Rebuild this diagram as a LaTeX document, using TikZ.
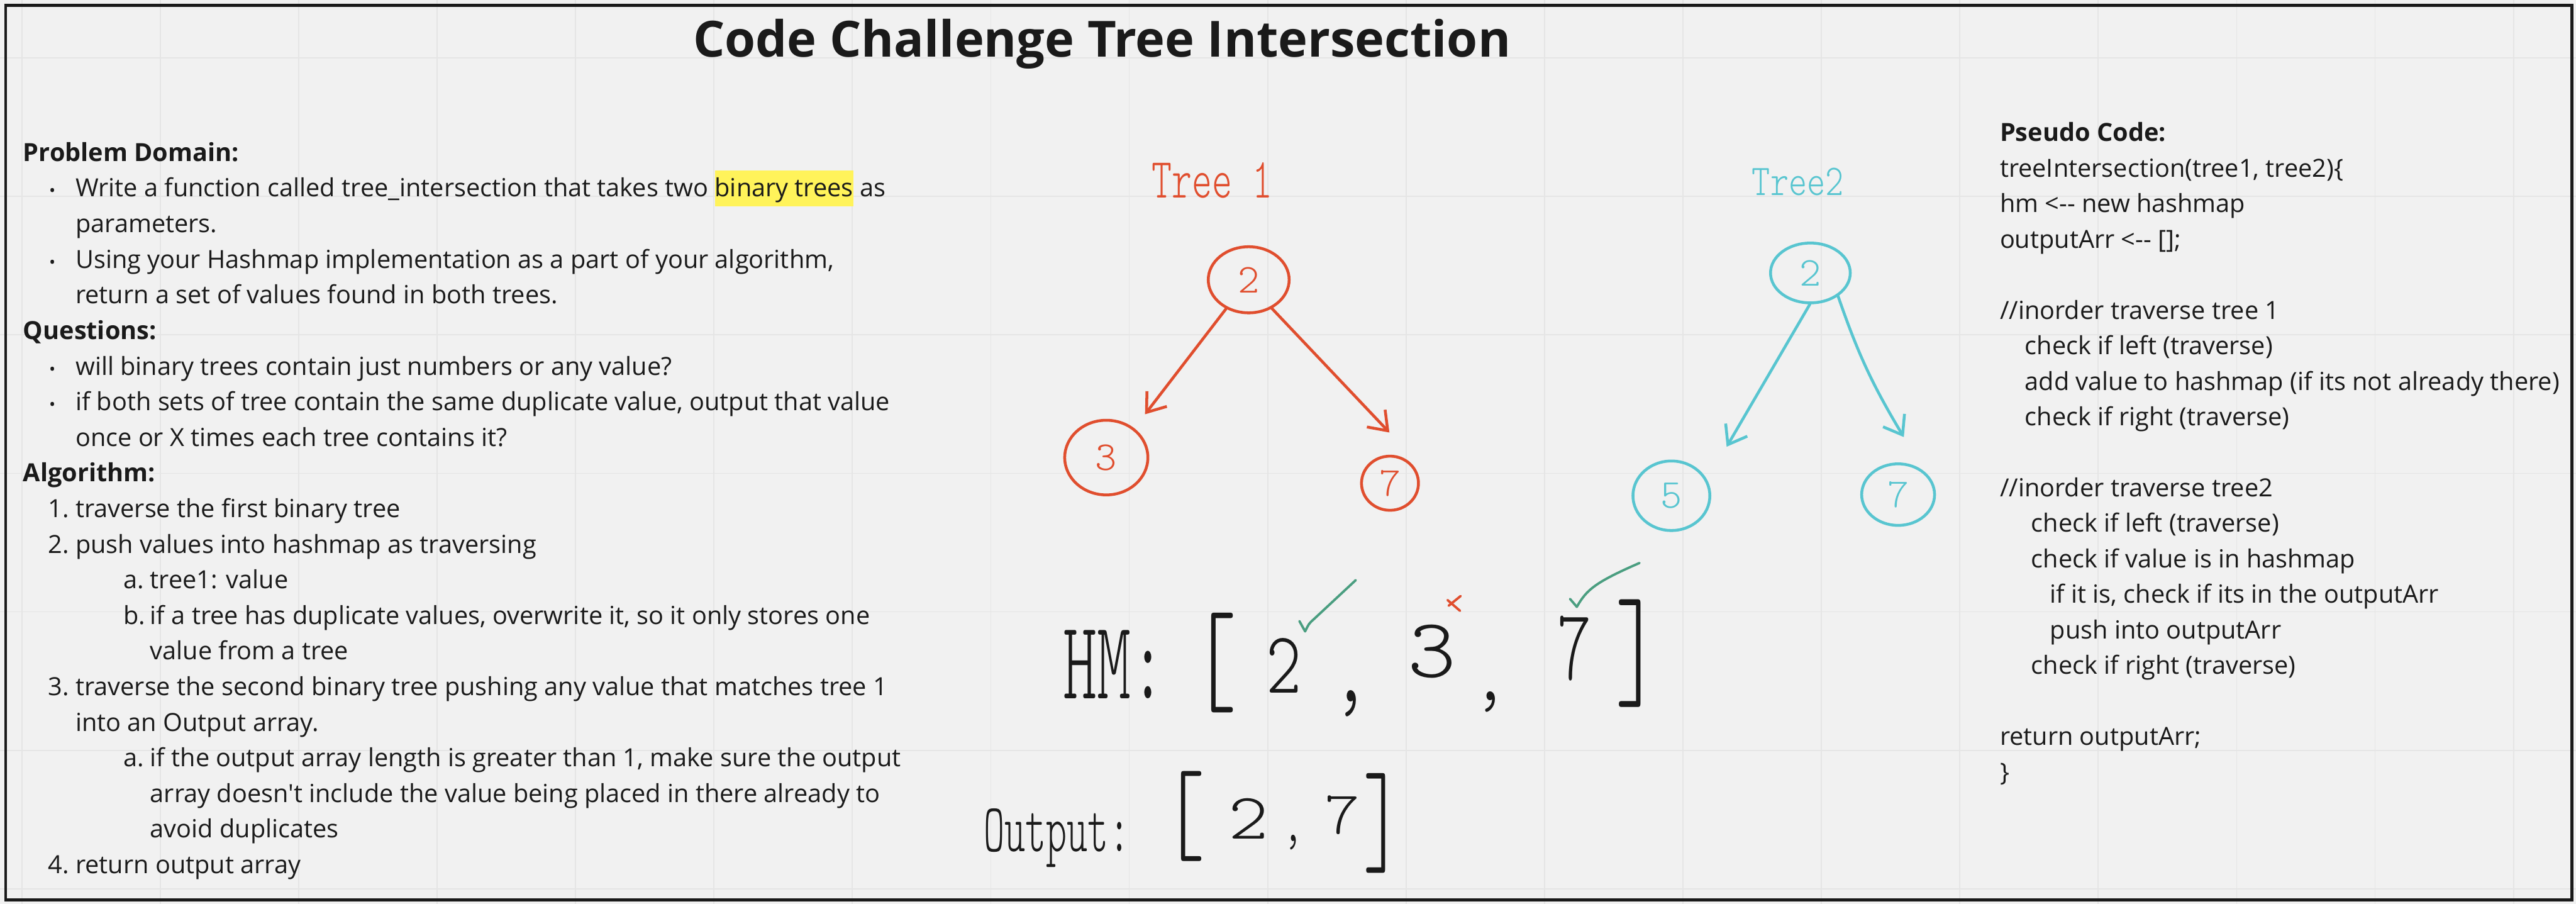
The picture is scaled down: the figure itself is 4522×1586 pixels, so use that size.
\documentclass[tikz,border=0pt]{standalone}
\usepackage{fontspec}
\usepackage{graphicx}
\setmainfont{Open Sans}
\newfontfamily\osfont{Open Sans}
\newcommand{\handfont}{\fontfamily{lmtt}\fontseries{l}\selectfont}
\usetikzlibrary{arrows.meta,shapes.geometric}
\definecolor{bg}{HTML}{F1F1F1}
\definecolor{gridc}{HTML}{E5E5E5}
\definecolor{ink}{HTML}{1A1A1A}
\definecolor{tred}{HTML}{E04E2E}
\definecolor{tteal}{HTML}{58C5D0}
\definecolor{tgreen}{HTML}{4A9E80}
\definecolor{hl}{HTML}{FFF35A}
\newcommand{\hlbox}[1]{{\setlength{\fboxsep}{0pt}\colorbox{hl}{\rule[-1.7mm]{0pt}{6.3mm}#1}}}
\newcommand{\bodyfont}{\osfont\fontsize{12.47pt}{14pt}\selectfont}
\begin{document}
\begin{tikzpicture}[x=0.1mm,y=-0.1mm,
  txt/.style={inner sep=0pt, anchor=base west, text=ink, font=\bodyfont},
  hd/.style={inner sep=0pt, anchor=base west, text=ink, font=\bodyfont\bfseries},
  bul/.style={inner sep=0pt, anchor=base, text=ink, font=\osfont\fontsize{8.5pt}{9pt}\selectfont},
  tnode/.style={ellipse, draw, line width=0.5mm, inner sep=0pt, font=\handfont\fontsize{20.5pt}{22pt}\selectfont},
  redn/.style={tnode, draw=tred, text=tred},
  tealn/.style={tnode, draw=tteal, text=tteal},
  arr/.style={-{Straight Barb[length=3mm,width=4.4mm]}, line width=0.5mm, line cap=round, line join=round},
  hw/.style={inner sep=0pt, text=ink, font=\handfont},
  tick/.style={line width=0.42mm, line cap=round, line join=round},
  gridline/.style={draw=gridc, line width=0.2mm}
]
\useasboundingbox (0,0) rectangle (4522,1586);
\fill[bg] (0,0) rectangle (4522,1586);
\foreach \i in {0,...,18} \draw[gridline] ({38.3+243*\i},0) -- ({38.3+243*\i},1586);
\foreach \j in {0,...,6} \draw[gridline] (0,{101.7+243*\j}) -- (4522,{101.7+243*\j});
\draw[line width=0.5mm, draw=ink] (9.7,9.5) rectangle (4514.5,1579.5);

% title
\node[inner sep=0pt, anchor=base west, text=ink, font=\osfont\bfseries\fontsize{24.9pt}{28pt}\selectfont] (title) at (1216,100) {Code Challenge Tree Intersection};

% left panel
\node[hd] (pd) at (40,283) {Problem Domain:};
\node[bul] (bu1) at (92,345.5) {•};
\node[txt] (pd1) at (132,345.5) {Write a function called tree\_intersection that takes two \hlbox{binary trees} as};
\node[txt] (pd1b) at (132,408) {parameters.};
\node[bul] (bu2) at (92,470.5) {•};
\node[txt] (pd2) at (132,470.5) {Using your Hashmap implementation as a part of your algorithm,};
\node[txt] (pd2b) at (132,533) {return a set of values found in both trees.};
\node[hd] (qs) at (40,595.5) {Questions:};
\node[bul] (bu3) at (92,658) {•};
\node[txt] (q1) at (132,658) {will binary trees contain just numbers or any value?};
\node[bul] (bu4) at (92,720.5) {•};
\node[txt] (q2) at (132,720.5) {if both sets of tree contain the same duplicate value, output that value};
\node[txt] (q2b) at (132,783) {once or X times each tree contains it?};
\node[hd] (alg) at (40,845.5) {Algorithm:};
\node[txt] (n1) at (84,908) {1.};
\node[txt] (a1t) at (132,908) {traverse the first binary tree};
\node[txt] (n2) at (84,970.5) {2.};
\node[txt] (a2t) at (132,970.5) {push values into hashmap as traversing};
\node[txt] (l2a) at (216,1033) {a.};
\node[txt] (a2a) at (263,1033) {tree1: value};
\node[txt] (l2b) at (216,1095.5) {b.};
\node[txt] (a2b) at (263,1095.5) {if a tree has duplicate values, overwrite it, so it only stores one};
\node[txt] (a2bb) at (263,1158) {value from a tree};
\node[txt] (n3) at (84,1220.5) {3.};
\node[txt] (a3t) at (132,1220.5) {traverse the second binary tree pushing any value that matches tree 1};
\node[txt] (a3tb) at (132,1283) {into an Output array.};
\node[txt] (l3a) at (216,1345.5) {a.};
\node[txt] (a3a) at (263,1345.5) {if the output array length is greater than 1, make sure the output};
\node[txt] (a3ab) at (263,1408) {array doesn't include the value being placed in there already to};
\node[txt] (a3ac) at (263,1470.5) {avoid duplicates};
\node[txt] (n4) at (84,1533) {4.};
\node[txt] (a4t) at (132,1533) {return output array};

% pseudo code
\node[hd] (ps0) at (3510,248) {Pseudo Code:};
\node[txt] (ps1) at (3510,310.4) {treeIntersection(tree1, tree2)\{};
\node[txt] (ps2) at (3510,372.7) {hm <-- new hashmap};
\node[txt] (ps3) at (3510,435) {outputArr <-- [];};
\node[txt] (ps5) at (3510,559.8) {//inorder traverse tree 1};
\node[txt] (ps6) at (3554,622) {check if left (traverse)};
\node[txt] (ps7) at (3554,684.5) {add value to hashmap (if its not already there)};
\node[txt] (ps8) at (3554,746.8) {check if right (traverse)};
\node[txt] (ps10) at (3510,871.5) {//inorder traverse tree2};
\node[txt] (ps11) at (3565,933.9) {check if left (traverse)};
\node[txt] (ps12) at (3565,996.2) {check if value is in hashmap};
\node[txt] (ps13) at (3598,1058.6) {if it is, check if its in the outputArr};
\node[txt] (ps14) at (3598,1120.9) {push into outputArr};
\node[txt] (ps15) at (3565,1183.3) {check if right (traverse)};
\node[txt] (ps17) at (3510,1308) {return outputArr;};
\node[txt] (ps18) at (3510,1370.3) {\}};

% tree 1
\node[hw, text=tred, anchor=base west] (t1lab) at (2021,347) {\resizebox{21.2mm}{6.2mm}{Tree 1}};
\node[redn, minimum width=14.2mm, minimum height=11.6mm] (r1) at (2192,491) {2};
\node[redn, minimum width=14.6mm, minimum height=13.1mm] (a1) at (1942,803) {3};
\node[redn, minimum width=10mm, minimum height=9.5mm] (b1) at (2440,848) {7};
\draw[arr, tred] (r1.232) -- ([xshift=6.8mm,yshift=7.6mm]a1.center);
\draw[arr, tred] (r1.-51) -- ([xshift=-0.1mm,yshift=8.9mm]b1.center);

% tree 2
\node[hw, text=tteal, anchor=base west] (t2lab) at (3075,343) {\resizebox{16.1mm}{4.8mm}{Tree2}};
\node[tealn, minimum width=14mm, minimum height=10.5mm] (r2) at (3178,479) {2};
\node[tealn, minimum width=13.5mm, minimum height=12.2mm] (a2) at (2934,870) {5};
\node[tealn, minimum width=12.8mm, minimum height=10.8mm] (b2) at (3332,868) {7};
\draw[arr, tteal] (r2.-91) -- ([xshift=9.7mm,yshift=8.6mm]a2.center);
\draw[arr, tteal] (r2.-40) to[bend right=6] ([xshift=1mm,yshift=10.1mm]b2.center);

% HM row
\node[hw] (hm) at (1955.5,1166) {\resizebox{17.9mm}{12mm}{HM:}};
\node[hw] (hmo) at (2132,1163) {\resizebox*{8mm}{17.5mm}{[}};
\node[hw] (hm2) at (2254,1168) {\resizebox{6.2mm}{9.6mm}{2}};
\node[hw] (hmc1) at (2371,1235) {\resizebox*{6.5mm}{4.6mm}{,}};
\node[hw] (hm3) at (2514,1143) {\resizebox{8.5mm}{9.2mm}{3}};
\node[hw] (hmc2) at (2616,1232) {\resizebox*{6mm}{3.6mm}{,}};
\node[hw] (hm7) at (2764,1138) {\resizebox{6mm}{11.2mm}{7}};
\node[hw] (hmcl) at (2876,1147) {\resizebox*{8mm}{18.9mm}{]}};
\draw[tick, tgreen] (2281,1090) -- (2291,1108) .. controls (2298,1094) .. (2307,1086) -- (2380,1018);
\draw[tick, tgreen] (2756,1051) -- (2768,1065) .. controls (2785,1035) and (2800,1022) .. (2878,988);
\draw[tick, tred] (2541,1053) -- (2563,1072) (2564,1046) -- (2543,1063);

% Output row
\node[hw] (out) at (1855,1471) {\resizebox*{25.6mm}{10.3mm}{Output:}};
\node[hw] (oo) at (2078,1433) {\resizebox*{7.5mm}{15.8mm}{[}};
\node[hw] (o2) at (2192,1437) {\resizebox{7mm}{7.1mm}{2}};
\node[hw] (oc) at (2270,1478) {\resizebox*{3.5mm}{2.6mm}{,}};
\node[hw] (o7) at (2356,1430) {\resizebox{6.2mm}{6.7mm}{7}};
\node[hw] (ocl) at (2428,1445) {\resizebox*{7mm}{17.5mm}{]}};
\end{tikzpicture}
\end{document}
